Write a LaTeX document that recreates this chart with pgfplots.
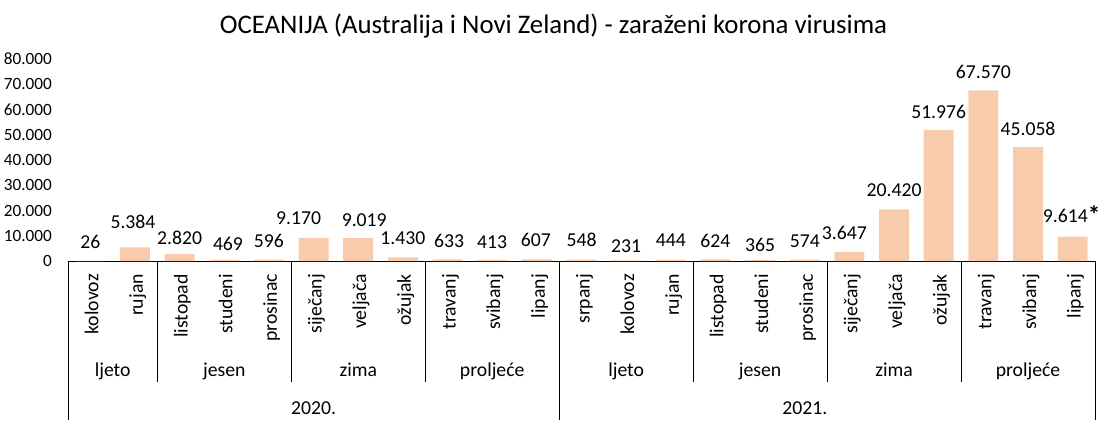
\documentclass[border=0pt]{standalone}
\usepackage{fontspec}
\setmainfont{Carlito}
\usepackage{pgfplots}
\pgfplotsset{compat=1.18}
\usepackage{pgfplotstable}
\definecolor{barc}{HTML}{F8CBAD}
\DeclareRobustCommand\stm{\raisebox{-1pt}{\fontsize{25}{26}\selectfont\bfseries *}}
\newcommand\lf{\fontsize{19.7}{22}\selectfont}

\pgfplotstableread{
x y lab dy dx
0 26 26 12.6 0
1 5384 5.384 19.1 -2
2 2820 2.820 9.6 0
3 469 469 9.8 3.7
4 596 596 11.8 0
5 9170 9.170 13.5 -15
6 9019 9.019 11.5 6
7 1430 1.430 13.1 0
8 633 633 11.7 1.5
9 413 413 11 0
10 607 607 12.8 -1
11 548 548 12.9 0
12 231 231 8.1 0
13 444 444 13.2 0
14 624 624 11.7 0
15 365 365 8.4 0
16 574 574 11.9 0
17 3647 3.647 12.5 -5
18 20420 20.420 12.7 0
19 51976 51.976 11.5 0
20 67570 67.570 12.1 0
21 45058 45.058 12.2 0
22 9614 9.614\stm{} 14.4 -1
}\data

\begin{document}
\begin{tikzpicture}
\begin{axis}[
  name=ax, at={(0,0)}, anchor=south west,
  scale only axis, width=1027pt, height=202pt,
  xmin=-0.5, xmax=22.5, ymin=0, ymax=80000,
  clip=false,
  axis x line*=bottom, axis y line*=left,
  y axis line style={draw=none},
  x axis line style={line width=0.8pt, black},
  major tick length=0pt,
  ytick={0,10000,...,80000},
  scaled y ticks=false,
  /pgf/number format/1000 sep={.},
  /pgf/number format/assume math mode=true,
  y tick label style={font=\fontsize{17.2}{19}\selectfont, anchor=east, inner sep=0pt, xshift=-16pt},
  xtick={0,...,22},
  xticklabels={kolovoz,rujan,listopad,studeni,prosinac,siječanj,veljača,ožujak,travanj,svibanj,lipanj,srpanj,kolovoz,rujan,listopad,studeni,prosinac,siječanj,veljača,ožujak,travanj,svibanj,lipanj},
  xticklabel shift=13pt,
  x tick label style={font=\lf, rotate=90, anchor=east, inner sep=0pt, text height=16pt, text depth=0pt},
]
\addplot[ybar, bar width=30pt, fill=barc, draw=none,
  nodes near coords, point meta=explicit symbolic,
  visualization depends on={\thisrow{dy} \as \dy},
  visualization depends on={\thisrow{dx} \as \dx},
  every node near coord/.append style={font=\lf, anchor=base, inner sep=0pt, yshift=\dy pt, xshift=\dx pt}]
  table[x=x, y=y, meta=lab] {\data};

\draw[line width=0.8pt] (axis cs:-0.5,0) -- ++(0pt,-159pt);
\draw[line width=0.8pt] (axis cs:10.5,0) -- ++(0pt,-159pt);
\draw[line width=0.8pt] (axis cs:22.5,0) -- ++(0pt,-159pt);
\draw[line width=0.8pt] (axis cs:1.5,0) -- ++(0pt,-121pt);
\draw[line width=0.8pt] (axis cs:4.5,0) -- ++(0pt,-121pt);
\draw[line width=0.8pt] (axis cs:7.5,0) -- ++(0pt,-121pt);
\draw[line width=0.8pt] (axis cs:13.5,0) -- ++(0pt,-121pt);
\draw[line width=0.8pt] (axis cs:16.5,0) -- ++(0pt,-121pt);
\draw[line width=0.8pt] (axis cs:19.5,0) -- ++(0pt,-121pt);
\node[font=\lf, anchor=base, yshift=-115pt] at (axis cs:0.5,0) {ljeto};
\node[font=\lf, anchor=base, yshift=-115pt] at (axis cs:3,0) {jesen};
\node[font=\lf, anchor=base, yshift=-115pt] at (axis cs:6,0) {zima};
\node[font=\lf, anchor=base, yshift=-115pt] at (axis cs:9,0) {proljeće};
\node[font=\lf, anchor=base, yshift=-115pt] at (axis cs:12,0) {ljeto};
\node[font=\lf, anchor=base, yshift=-115pt] at (axis cs:15,0) {jesen};
\node[font=\lf, anchor=base, yshift=-115pt] at (axis cs:18,0) {zima};
\node[font=\lf, anchor=base, yshift=-115pt] at (axis cs:21,0) {proljeće};
\node[font=\lf, anchor=base, yshift=-153pt] at (axis cs:5,0) {2020.};
\node[font=\lf, anchor=base, yshift=-153pt] at (axis cs:16,0) {2021.};
\node[font=\fontsize{26.8}{30}\selectfont, anchor=base, xshift=485.5pt, yshift=228pt] at (rel axis cs:0,0) {OCEANIJA (Australija i Novi Zeland) - zaraženi korona virusima};
\end{axis}
\pgfresetboundingbox
\path[use as bounding box] (-68pt,-163pt) rectangle (1034pt,261pt);
\end{tikzpicture}
\end{document}
